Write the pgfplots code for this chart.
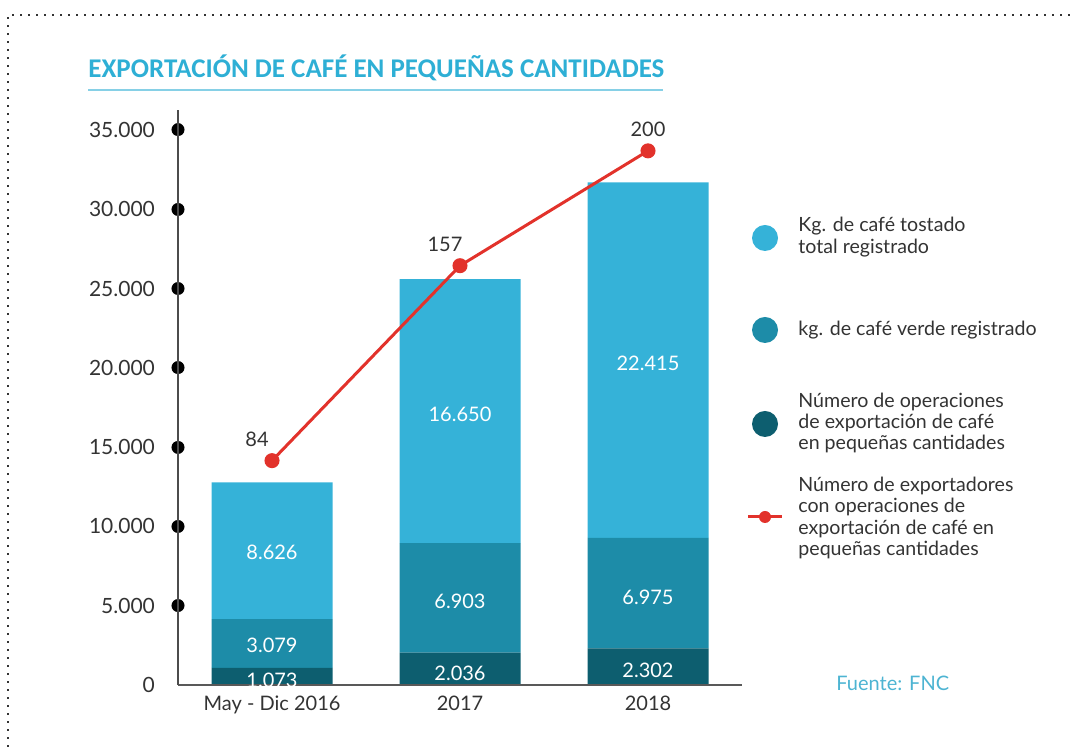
\documentclass[border=0pt]{standalone}
\usepackage{fontspec}
\setmainfont{Lato}
\newfontfamily\titlefont{Carlito}
\usepackage{pgfplots}
\pgfplotsset{compat=1.18}
\definecolor{cafeclaro}{HTML}{35B2D8}
\definecolor{cafemedio}{HTML}{1D8CA8}
\definecolor{cafeoscuro}{HTML}{0D5E6F}
\definecolor{rojo}{HTML}{E2322B}
\definecolor{titulo}{HTML}{2EAFD5}
\definecolor{subrayado}{HTML}{86D0E6}
\definecolor{fuente}{HTML}{4DB4D2}
\definecolor{texto}{HTML}{333333}

\pgfplotsset{
  capa/.style={
    at={(89pt,31pt)}, anchor=south west,
    scale only axis, width=282pt, height=287.5pt,
    xmin=-0.5, xmax=2.5, ymin=0,
  },
}

\begin{document}
\begin{tikzpicture}
\path[use as bounding box] (0,0) rectangle (537pt,373.5pt);
\draw[black!80, line width=1pt, dash pattern=on 1pt off 3pt] (4pt,0) -- (4pt,366pt) -- (537pt,366pt);
\node[anchor=base west, inner sep=0, text=titulo,
      font=\titlefont\bfseries\fontsize{13.5}{15}\selectfont] at (44pt,334.5pt)
  {EXPORTACIÓN DE CAFÉ EN PEQUEÑAS CANTIDADES};
\draw[subrayado, line width=1pt] (44pt,328.5pt) -- (331.5pt,328.5pt);

% barras apiladas
\begin{axis}[capa, ymax=36260,
    ybar stacked, bar width=60.5pt,
    axis on top,
    axis lines=left, axis line style={-},
    x axis line style={black!65, line width=0.8pt},
    y axis line style={black!70, line width=1pt},
    xtick={0,1,2},
    xticklabels={May - Dic 2016, 2017, 2018},
    x tick style={draw=none},
    xticklabel style={yshift=-2pt},
    ytick={5000,10000,...,35000},
    extra y ticks={0},
    extra y tick style={y tick style={draw=none}},
    y tick style={black, line width=6.5pt, line cap=round},
    major tick length=0.01pt, tick align=center,
    yticklabel style={xshift=-8pt},
    scaled y ticks=false,
    tick label style={font=\fontsize{10.5}{12}\selectfont, text=texto},
    xticklabel style={font=\fontsize{10}{12}\selectfont},
    /pgf/number format/.cd, 1000 sep={.}, assume math mode=true,
  ]
\addplot[fill=cafeoscuro, draw=none] coordinates {(0,1073) (1,2036) (2,2302)};
\addplot[fill=cafemedio, draw=none] coordinates {(0,3079) (1,6903) (2,6975)};
\addplot[fill=cafeclaro, draw=none] coordinates {(0,8626) (1,16650) (2,22415)};
\end{axis}

% etiquetas de las barras
\begin{axis}[capa, ymax=36260, hide axis, clip=false]
\addplot[draw=none, mark=none, nodes near coords, point meta=explicit symbolic,
    every node near coord/.append style={anchor=center, text=white,
      font=\fontsize{10}{12}\selectfont}]
  coordinates {
    (0,315)[1.073] (0,2523)[3.079] (0,8387)[8.626]
    (1,757)[2.036] (1,5297)[6.903] (1,17090)[16.650]
    (2,946)[2.302] (2,5550)[6.975] (2,20306)[22.415]
  };
\end{axis}

% numero de exportadores
\begin{axis}[capa, ymax=215.3, hide axis, clip=false]
\addplot[rojo, line width=1.5pt, mark=*, mark size=3pt, mark options={fill=rojo, draw=rojo}]
  coordinates {(0,84) (1,157) (2,200)};
\addplot[draw=none, mark=none, nodes near coords, point meta=explicit symbolic,
    every node near coord/.append style={anchor=center, yshift=10.5pt, xshift=-7.5pt,
      text=texto, font=\fontsize{10}{12}\selectfont}]
  coordinates {(0,84)[84] (1,157)[157]};
\addplot[draw=none, mark=none, nodes near coords, point meta=explicit symbolic,
    every node near coord/.append style={anchor=center, yshift=11pt,
      text=texto, font=\fontsize{10}{12}\selectfont}]
  coordinates {(2,200)[200]};
\end{axis}

% leyenda
\fill[cafeclaro] (382.5pt,254.5pt) circle (6.5pt);
\fill[cafemedio] (382.5pt,208.5pt) circle (6.5pt);
\fill[cafeoscuro] (382.5pt,161.5pt) circle (6.5pt);
\draw[rojo, line width=1.5pt] (374pt,115pt) -- (391pt,115pt);
\fill[rojo] (382.5pt,115pt) circle (3pt);
\begin{scope}[every node/.style={anchor=west, align=left, inner sep=0, text=texto,
    font=\fontsize{9.8}{10.6}\selectfont}]
\node at (399pt,255pt) {Kg. de café tostado\\total registrado};
\node at (399pt,208.5pt) {kg. de café verde registrado};
\node at (399pt,162pt) {Número de operaciones\\de exportación de café\\en pequeñas cantidades};
\node at (399pt,114.5pt) {Número de exportadores\\con operaciones de\\exportación de café en\\pequeñas cantidades};
\end{scope}
\node[anchor=west, inner sep=0, text=fuente, font=\fontsize{10}{12}\selectfont] at (418pt,32pt) {Fuente: FNC};
\end{tikzpicture}
\end{document}
